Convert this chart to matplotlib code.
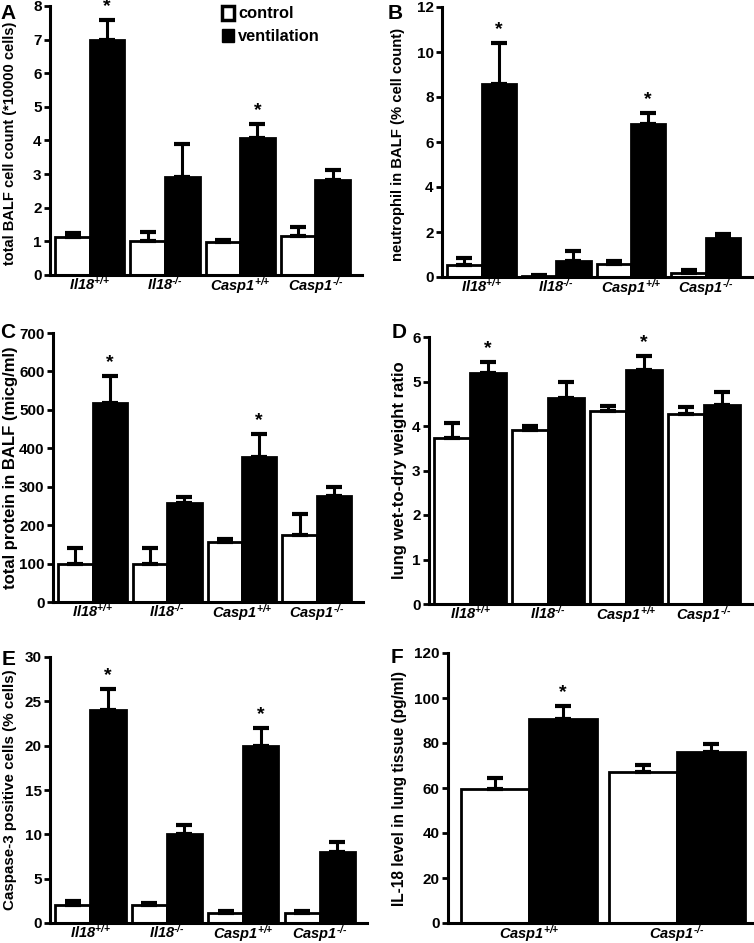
import numpy as np
import matplotlib
matplotlib.use("Agg")
import matplotlib.pyplot as plt
from matplotlib.patches import Patch

plt.rcParams['font.family'] = ['Liberation Sans', 'DejaVu Sans']
plt.rcParams['font.weight'] = 'bold'
plt.rcParams['mathtext.fontset'] = 'custom'
plt.rcParams['mathtext.rm'] = 'Liberation Sans:bold:italic'
plt.rcParams['mathtext.it'] = 'Liberation Sans:bold:italic'
plt.rcParams['mathtext.bf'] = 'Liberation Sans:bold:italic'
plt.rcParams['mathtext.default'] = 'regular'

groups4 = [r'Il18$^{\text{+/+}}$', r'Il18$^{\text{-/-}}$',
           r'Casp1$^{\text{+/+}}$', r'Casp1$^{\text{-/-}}$']
groups2 = [r'Casp1$^{\text{+/+}}$', r'Casp1$^{\text{-/-}}$']

# A: total BALF cell count
a_ctrl = [1.13, 1.0, 0.97, 1.15]
a_ctrl_err = [0.12, 0.28, 0.08, 0.28]
a_vent = [7.0, 2.9, 4.08, 2.82]
a_vent_err = [0.58, 1.0, 0.4, 0.3]

# B: neutrophil in BALF
b_ctrl = [0.55, 0.05, 0.6, 0.18]
b_ctrl_err = [0.3, 0.03, 0.1, 0.12]
b_vent = [8.6, 0.7, 6.8, 1.72]
b_vent_err = [1.8, 0.45, 0.5, 0.18]

# C: total protein in BALF
c_ctrl = [100, 100, 155, 175]
c_ctrl_err = [40, 40, 10, 53]
c_vent = [518, 258, 378, 275]
c_vent_err = [70, 14, 60, 25]

# D: wet-to-dry weight ratio
d_ctrl = [3.73, 3.9, 4.33, 4.27]
d_ctrl_err = [0.33, 0.1, 0.12, 0.16]
d_vent = [5.18, 4.63, 5.25, 4.47]
d_vent_err = [0.25, 0.37, 0.33, 0.3]

# E: caspase-3 positive cells
e_ctrl = [2.0, 2.0, 1.1, 1.1]
e_ctrl_err = [0.5, 0.3, 0.2, 0.2]
e_vent = [24, 10, 20, 8]
e_vent_err = [2.4, 1.0, 2.0, 1.1]

# F: IL-18 level in lung tissue
f_ctrl = [59.5, 67.3]
f_ctrl_err = [5.0, 3.0]
f_vent = [90.5, 75.8]
f_vent_err = [6.0, 3.7]

W, H = 754, 943
fig = plt.figure(figsize=(W / 100, H / 100), dpi=100)


def panel(px, labels, ctrl, ctrl_err, vent, vent_err, ymax, step, ylabel,
          ylab_off, stars, lab_size=11.3, lab_y=0.5, lpad=0.07, rpad=0.16):
    # px = (left, top, right, bottom) in pixels
    l, t, r, b = px
    ax = fig.add_axes([l / W, 1 - b / H, (r - l) / W, (b - t) / H])
    n = len(labels)
    x = np.arange(n)
    w = 0.46
    zeros = np.zeros(n)
    ax.bar(x - w / 2, ctrl, w, color='white', edgecolor='black', linewidth=2,
           zorder=2)
    ax.bar(x + w / 2, vent, w, color='black', edgecolor='black', linewidth=2,
           zorder=2)
    ax.errorbar(x - w / 2, ctrl, yerr=[zeros, ctrl_err], fmt='none',
                ecolor='black', elinewidth=2.2, capsize=6, capthick=3, zorder=3)
    ax.errorbar(x + w / 2, vent, yerr=[zeros, vent_err], fmt='none',
                ecolor='black', elinewidth=2.2, capsize=6, capthick=3, zorder=3)
    for i in stars:
        ax.text(i + w / 2, vent[i] + vent_err[i] + ymax * 0.05, '*',
                ha='center', va='center', fontsize=14, fontweight='bold',
                clip_on=False)
    ax.set_xlim(-w - lpad, n - 1 + w + rpad)
    ax.set_ylim(0, ymax)
    ax.set_yticks(np.arange(0, ymax + step / 2, step))
    ax.set_xticks(x)
    ax.set_xticklabels(labels, fontsize=10.5, fontweight='bold', style='italic')
    ax.tick_params(axis='x', length=0, pad=0)
    ax.tick_params(axis='y', length=4, width=2, labelsize=11, pad=2)
    for lab in ax.get_yticklabels():
        lab.set_fontweight('bold')
    for s in ['top', 'right']:
        ax.spines[s].set_visible(False)
    for s in ['left', 'bottom']:
        ax.spines[s].set_linewidth(2.2)
    ax.set_ylabel(ylabel, fontsize=lab_size, fontweight='bold')
    ax.yaxis.set_label_coords(ylab_off / (r - l), lab_y)
    return ax


axA = panel((50, 6, 362, 275), groups4, a_ctrl, a_ctrl_err, a_vent, a_vent_err,
            8, 1, 'total BALF cell count (*10000 cells)', -33, [0, 2],
            lab_size=10.5, lab_y=0.49)
axB = panel((442, 7, 752, 277), groups4, b_ctrl, b_ctrl_err, b_vent, b_vent_err,
            12, 2, 'neutrophil in BALF (% cell count)', -37, [0, 2],
            lab_size=10.7, lab_y=0.49)
axC = panel((53, 333, 363, 602), groups4, c_ctrl, c_ctrl_err, c_vent, c_vent_err,
            700, 100, 'total protein in BALF (micg/ml)', -35, [0, 2],
            lab_size=12)
axD = panel((429, 337, 752, 604), groups4, d_ctrl, d_ctrl_err, d_vent, d_vent_err,
            6, 1, 'lung wet-to-dry weight ratio', -22, [0, 2], lab_size=12)
axE = panel((50, 657, 367, 923), groups4, e_ctrl, e_ctrl_err, e_vent, e_vent_err,
            30, 5, 'Caspase-3 positive cells (% cells)', -33, [0, 2],
            lab_size=10.9)
axF = panel((448, 653, 752, 923), groups2, f_ctrl, f_ctrl_err, f_vent, f_vent_err,
            120, 20, 'IL-18 level in lung tissue (pg/ml)', -41, [0],
            lab_size=11.2, lpad=0.09, rpad=0.05)

# panel letters: (text, left px, top px)
letters = [('A', 0, 4), ('B', 388, 4), ('C', 0, 323), ('D', 392, 323),
           ('E', 2, 650), ('F', 391, 648)]
for t, lx, ly in letters:
    fig.text(lx / W, 1 - ly / H, t, fontsize=15, fontweight='bold',
             ha='left', va='top')

handles = [Patch(facecolor='white', edgecolor='black', linewidth=2.5, label='control'),
           Patch(facecolor='black', edgecolor='black', label='ventilation')]
axA.legend(handles=handles, loc='upper left', bbox_to_anchor=(0.55, 1.0),
           frameon=False, borderpad=0, handlelength=0.75, handleheight=0.9,
           handletextpad=0.25, labelspacing=0.45, borderaxespad=0,
           prop={'weight': 'bold', 'size': 11.8})

fig.savefig('out.png', dpi=100)
